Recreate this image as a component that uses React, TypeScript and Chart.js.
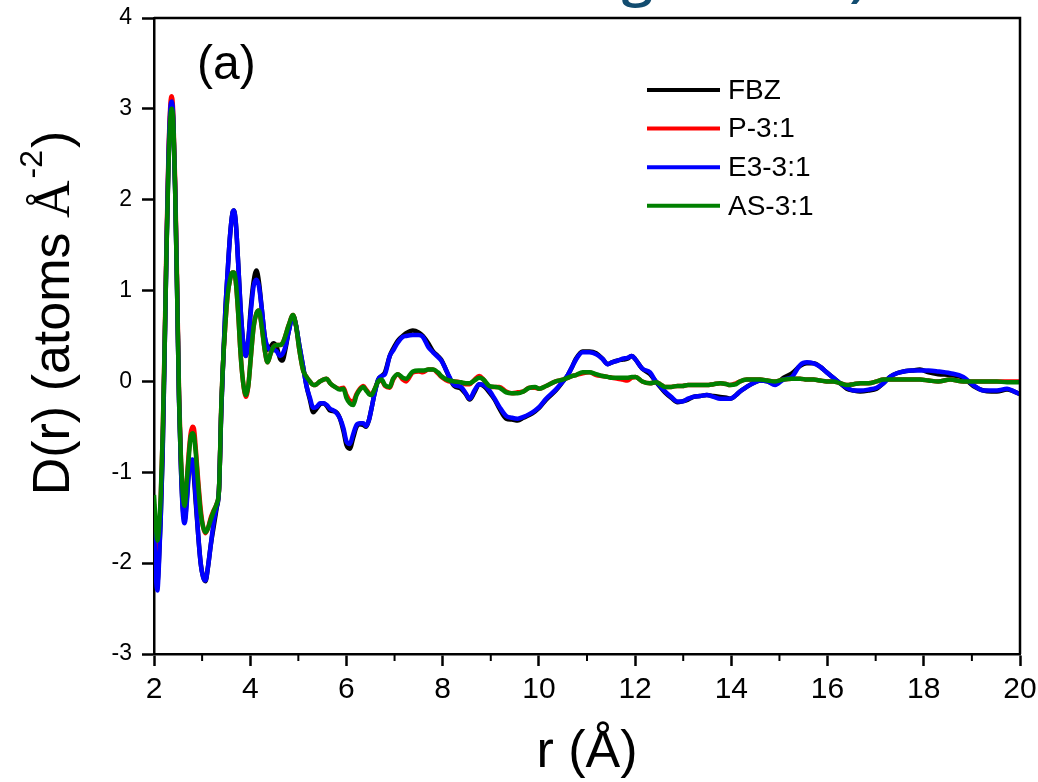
import React, { useEffect, useRef } from "react";
import { Chart, registerables } from "chart.js";

Chart.register(...registerables);

// Radial distance r (Å)
const rValues = [
  2.00, 2.04, 2.07, 2.10, 2.14, 2.18, 2.22, 2.26, 2.30, 2.34,
  2.37, 2.40, 2.44, 2.48, 2.52, 2.56, 2.60, 2.64, 2.68, 2.72,
  2.76, 2.80, 2.83, 2.87, 2.92, 2.97, 3.02, 3.07, 3.12, 3.18,
  3.24, 3.30, 3.35, 3.40, 3.44, 3.48, 3.53, 3.58, 3.63, 3.66,
  3.70, 3.75, 3.80, 3.85, 3.91, 3.96, 4.01, 4.07, 4.13, 4.18,
  4.24, 4.30, 4.36, 4.42, 4.48, 4.55, 4.62, 4.67, 4.73, 4.80,
  4.89, 4.95, 5.02, 5.10, 5.17, 5.24, 5.31, 5.38, 5.45, 5.52,
  5.59, 5.66, 5.76, 5.86, 5.94, 6.00, 6.07, 6.14, 6.21, 6.28,
  6.35, 6.41, 6.47, 6.52, 6.59, 6.66, 6.73, 6.80, 6.90, 6.97,
  7.07, 7.17, 7.24, 7.38, 7.50, 7.59, 7.70, 7.80, 7.90, 7.97,
  8.05, 8.14, 8.24, 8.38, 8.48, 8.56, 8.66, 8.76, 8.85, 8.97,
  9.08, 9.18, 9.32, 9.44, 9.56, 9.68, 9.80, 9.92, 10.01, 10.15,
  10.35, 10.50, 10.60, 10.70, 10.77, 10.91, 11.05, 11.19, 11.32, 11.43,
  11.52, 11.64, 11.74, 11.84, 11.93, 12.01, 12.15, 12.31, 12.43, 12.52,
  12.62, 12.75, 12.88, 12.98, 13.10, 13.21, 13.35, 13.49, 13.63, 13.77,
  13.90, 13.97, 14.10, 14.18, 14.32, 14.45, 14.60, 14.75, 14.91, 15.08,
  15.26, 15.43, 15.57, 15.71, 15.85, 15.98, 16.12, 16.26, 16.40, 16.54,
  16.68, 16.85, 17.02, 17.16, 17.30, 17.44, 17.58, 17.75, 17.92, 18.10,
  18.30, 18.55, 18.82, 19.03, 19.24, 19.40, 19.52, 19.73, 19.87, 20.00,
];

// D(r) for each sample
const fbzValues = [
  -1.55, -2.05, -2.22, -2.00, -1.50, -0.80, 0.30, 1.45, 2.40, 2.95,
  3.05, 2.85, 2.10, 1.00, -0.20, -0.95, -1.40, -1.52, -1.30, -1.00,
  -0.90, -0.88, -1.05, -1.35, -1.70, -2.00, -2.15, -2.20, -2.05, -1.80,
  -1.60, -1.40, -1.20, -0.30, 0.25, 0.75, 1.20, 1.60, 1.85, 1.88,
  1.75, 1.30, 0.80, 0.45, 0.28, 0.45, 0.80, 1.10, 1.22, 1.10,
  0.80, 0.50, 0.35, 0.38, 0.42, 0.38, 0.25, 0.23, 0.35, 0.55,
  0.72, 0.62, 0.40, 0.16, -0.05, -0.20, -0.34, -0.30, -0.25, -0.24,
  -0.27, -0.32, -0.33, -0.40, -0.55, -0.70, -0.74, -0.62, -0.50, -0.47,
  -0.48, -0.50, -0.42, -0.30, -0.12, 0.02, 0.06, 0.10, 0.28, 0.36,
  0.45, 0.50, 0.53, 0.56, 0.54, 0.50, 0.42, 0.33, 0.28, 0.24,
  0.15, 0.04, -0.05, -0.08, -0.14, -0.20, -0.12, -0.03, -0.05, -0.12,
  -0.20, -0.30, -0.41, -0.42, -0.43, -0.40, -0.37, -0.33, -0.29, -0.20,
  -0.10, 0.00, 0.07, 0.17, 0.25, 0.33, 0.33, 0.31, 0.25, 0.19,
  0.21, 0.23, 0.24, 0.25, 0.28, 0.24, 0.14, 0.08, 0.00, -0.06,
  -0.12, -0.18, -0.23, -0.22, -0.20, -0.17, -0.16, -0.15, -0.16, -0.17,
  -0.18, -0.19, -0.15, -0.11, -0.06, -0.02, 0.01, 0.00, -0.03, 0.04,
  0.09, 0.17, 0.20, 0.20, 0.16, 0.10, 0.04, -0.02, -0.08, -0.10,
  -0.11, -0.10, -0.08, -0.02, 0.05, 0.09, 0.11, 0.12, 0.13, 0.10,
  0.08, 0.07, 0.04, -0.05, -0.10, -0.11, -0.11, -0.09, -0.11, -0.14,
];

const p31Values = [
  -1.35, -1.75, -1.90, -1.75, -1.30, -0.60, 0.40, 1.55, 2.50, 3.05,
  3.14, 2.95, 2.20, 1.10, -0.10, -0.85, -1.25, -1.38, -1.10, -0.80,
  -0.58, -0.50, -0.52, -0.75, -1.10, -1.40, -1.60, -1.67, -1.62, -1.50,
  -1.42, -1.35, -1.20, -0.25, 0.25, 0.60, 0.95, 1.12, 1.20, 1.20,
  1.10, 0.75, 0.30, 0.00, -0.17, -0.05, 0.25, 0.60, 0.75, 0.78,
  0.60, 0.35, 0.21, 0.30, 0.38, 0.40, 0.40, 0.42, 0.50, 0.62,
  0.73, 0.62, 0.35, 0.12, 0.05, 0.00, -0.04, -0.03, 0.00, 0.02,
  0.03, -0.02, -0.06, -0.08, -0.07, -0.15, -0.21, -0.22, -0.14, -0.08,
  -0.05, -0.09, -0.13, -0.14, -0.08, 0.00, 0.01, -0.05, -0.07, 0.02,
  0.08, 0.02, 0.00, 0.10, 0.11, 0.10, 0.13, 0.13, 0.09, 0.05,
  0.02, 0.00, 0.00, -0.01, -0.03, -0.03, 0.02, 0.06, 0.02, -0.06,
  -0.06, -0.06, -0.11, -0.13, -0.12, -0.11, -0.07, -0.07, -0.08, -0.05,
  0.00, 0.02, 0.04, 0.06, 0.07, 0.09, 0.10, 0.07, 0.06, 0.05,
  0.04, 0.03, 0.02, 0.01, 0.04, 0.05, 0.00, -0.02, -0.01, -0.03,
  -0.06, -0.06, -0.05, -0.05, -0.04, -0.04, -0.04, -0.04, -0.03, -0.02,
  -0.03, -0.04, -0.02, 0.00, 0.02, 0.02, 0.02, 0.01, 0.00, 0.02,
  0.03, 0.03, 0.02, 0.02, 0.01, 0.00, 0.00, -0.02, -0.04, -0.03,
  -0.02, -0.02, 0.00, 0.02, 0.02, 0.02, 0.02, 0.02, 0.02, 0.01,
  0.00, 0.02, 0.00, 0.00, 0.00, 0.00, 0.00, 0.00, 0.00, 0.00,
];

const e331Values = [
  -1.60, -2.15, -2.30, -2.05, -1.50, -0.75, 0.30, 1.45, 2.45, 3.00,
  3.08, 2.90, 2.10, 1.00, -0.20, -0.95, -1.45, -1.56, -1.35, -1.05,
  -0.90, -0.86, -1.00, -1.30, -1.70, -2.00, -2.15, -2.19, -2.05, -1.80,
  -1.55, -1.38, -1.20, -0.30, 0.25, 0.75, 1.20, 1.60, 1.85, 1.88,
  1.75, 1.30, 0.80, 0.45, 0.28, 0.45, 0.75, 1.05, 1.12, 1.05,
  0.80, 0.50, 0.38, 0.35, 0.35, 0.33, 0.28, 0.30, 0.38, 0.55,
  0.72, 0.62, 0.40, 0.16, -0.05, -0.18, -0.29, -0.28, -0.24, -0.24,
  -0.26, -0.30, -0.33, -0.40, -0.52, -0.66, -0.69, -0.58, -0.48, -0.46,
  -0.46, -0.49, -0.42, -0.30, -0.12, 0.02, 0.06, 0.08, 0.28, 0.34,
  0.43, 0.49, 0.50, 0.51, 0.51, 0.49, 0.38, 0.32, 0.27, 0.23,
  0.15, 0.05, -0.04, -0.06, -0.13, -0.19, -0.10, -0.03, -0.04, -0.10,
  -0.19, -0.28, -0.38, -0.40, -0.41, -0.39, -0.36, -0.32, -0.28, -0.19,
  -0.09, 0.00, 0.07, 0.17, 0.24, 0.32, 0.32, 0.30, 0.25, 0.19,
  0.21, 0.23, 0.25, 0.26, 0.28, 0.24, 0.14, 0.10, 0.00, -0.05,
  -0.11, -0.17, -0.22, -0.22, -0.19, -0.17, -0.16, -0.15, -0.17, -0.19,
  -0.19, -0.19, -0.15, -0.11, -0.06, -0.02, 0.01, 0.00, -0.04, 0.02,
  0.05, 0.18, 0.21, 0.20, 0.16, 0.10, 0.04, -0.02, -0.07, -0.10,
  -0.10, -0.09, -0.07, -0.02, 0.05, 0.09, 0.11, 0.12, 0.12, 0.12,
  0.11, 0.09, 0.05, -0.04, -0.10, -0.10, -0.10, -0.08, -0.11, -0.14,
];

const as31Values = [
  -1.25, -1.60, -1.75, -1.65, -1.25, -0.60, 0.35, 1.45, 2.35, 2.90,
  3.00, 2.85, 2.10, 1.00, -0.15, -0.85, -1.25, -1.37, -1.10, -0.85,
  -0.62, -0.57, -0.60, -0.80, -1.15, -1.45, -1.60, -1.66, -1.62, -1.52,
  -1.43, -1.35, -1.20, -0.25, 0.25, 0.60, 0.95, 1.12, 1.20, 1.20,
  1.10, 0.75, 0.30, 0.00, -0.15, -0.05, 0.25, 0.60, 0.75, 0.78,
  0.60, 0.35, 0.21, 0.30, 0.38, 0.40, 0.40, 0.42, 0.50, 0.62,
  0.73, 0.62, 0.35, 0.12, 0.05, 0.00, -0.04, -0.03, 0.00, 0.02,
  0.03, -0.02, -0.06, -0.09, -0.08, -0.18, -0.24, -0.26, -0.15, -0.09,
  -0.06, -0.10, -0.14, -0.15, -0.08, 0.00, 0.02, -0.04, -0.06, 0.03,
  0.08, 0.04, 0.03, 0.11, 0.12, 0.12, 0.13, 0.13, 0.10, 0.06,
  0.03, 0.01, 0.00, -0.01, -0.02, -0.02, 0.01, 0.04, 0.02, -0.05,
  -0.06, -0.07, -0.12, -0.13, -0.13, -0.11, -0.07, -0.06, -0.08, -0.05,
  0.00, 0.02, 0.04, 0.06, 0.07, 0.10, 0.10, 0.08, 0.06, 0.05,
  0.04, 0.04, 0.04, 0.04, 0.05, 0.05, 0.00, -0.02, -0.01, -0.03,
  -0.06, -0.06, -0.05, -0.05, -0.04, -0.04, -0.04, -0.04, -0.03, -0.02,
  -0.03, -0.04, -0.03, 0.00, 0.02, 0.02, 0.02, 0.01, 0.00, 0.02,
  0.03, 0.03, 0.02, 0.02, 0.01, 0.00, 0.00, -0.02, -0.04, -0.03,
  -0.02, -0.02, 0.00, 0.02, 0.02, 0.02, 0.02, 0.02, 0.02, 0.01,
  0.00, 0.02, 0.00, 0.00, 0.00, 0.00, 0.00, -0.01, -0.01, -0.01,
];

const seriesLabels = ["FBZ", "P-3:1", "E3-3:1", "AS-3:1"];
const seriesColors = ["#000000", "#ff0000", "#0000ff", "#008000"];
// Later series are painted over earlier ones
const seriesOrder = [3, 2, 1, 0];

const xMinorTicks = [3, 5, 7, 9, 11, 13, 15, 17, 19];
const panelLabel = "(a)";
const headerText = "Short-range order)";

const SANS = '"Liberation Sans", Arial, sans-serif';
const SERIF = '"Liberation Serif", "Times New Roman", serif';

const decorations = {
  id: "decorations",
  afterDraw(chart: any) {
    const { ctx, chartArea, scales } = chart;
    const { left, right, top, bottom } = chartArea;
    ctx.save();

    // top and right frame lines
    ctx.strokeStyle = "#000";
    ctx.lineWidth = 2.5;
    ctx.beginPath();
    ctx.moveTo(left, top);
    ctx.lineTo(right, top);
    ctx.lineTo(right, bottom);
    ctx.stroke();

    // minor ticks on the r axis
    ctx.lineWidth = 2;
    xMinorTicks.forEach((v) => {
      const px = scales.x.getPixelForValue(v);
      ctx.beginPath();
      ctx.moveTo(px, bottom);
      ctx.lineTo(px, bottom + 7);
      ctx.stroke();
    });

    // panel label
    ctx.fillStyle = "#000";
    ctx.font = `48px ${SANS}`;
    ctx.textAlign = "left";
    ctx.textBaseline = "alphabetic";
    ctx.fillText(panelLabel, 197, 79);

    // legend
    const legendX0 = 647;
    const legendX1 = 720;
    chart.data.datasets.forEach((ds: any, i: number) => {
      const y = 90 + i * 38.6;
      ctx.strokeStyle = ds.borderColor;
      ctx.lineWidth = 4;
      ctx.beginPath();
      ctx.moveTo(legendX0, y);
      ctx.lineTo(legendX1, y);
      ctx.stroke();
      ctx.fillStyle = "#000";
      ctx.font = `28px ${SANS}`;
      ctx.textBaseline = "middle";
      ctx.fillText(ds.label, 728, y + 1);
    });

    // x axis title
    ctx.textBaseline = "alphabetic";
    ctx.textAlign = "center";
    ctx.font = `52px ${SANS}`;
    ctx.fillText("r (Å)", (left + right) / 2, 767);

    // y axis title with superscript
    ctx.save();
    ctx.translate(69, 313);
    ctx.rotate(-Math.PI / 2);
    ctx.textAlign = "left";
    const partA = "D(r) (atoms ";
    const partB = "Å";
    const partC = "-2";
    const partD = ")";
    ctx.font = `52px ${SANS}`;
    const wA = ctx.measureText(partA).width;
    const wD = ctx.measureText(partD).width;
    ctx.font = `52px ${SERIF}`;
    const wB = ctx.measureText(partB).width;
    ctx.font = `32px ${SANS}`;
    const wC = ctx.measureText(partC).width;
    let xPos = -(wA + wB + wC + wD + 4) / 2;
    ctx.font = `52px ${SANS}`;
    ctx.fillText(partA, xPos, 0);
    xPos += wA;
    ctx.font = `52px ${SERIF}`;
    ctx.fillText(partB, xPos, 0);
    xPos += wB + 2;
    ctx.font = `32px ${SANS}`;
    ctx.fillText(partC, xPos, -27);
    xPos += wC + 2;
    ctx.font = `52px ${SANS}`;
    ctx.fillText(partD, xPos, 0);
    ctx.restore();

    // heading running off the top edge
    ctx.fillStyle = "#124c70";
    ctx.font = `600 56px "Open Sans", ${SANS}`;
    ctx.textAlign = "right";
    ctx.textBaseline = "alphabetic";
    ctx.fillText(headerText, 867, -5);

    ctx.restore();
  },
};

export default function App() {
  const canvasRef = useRef<HTMLCanvasElement | null>(null);

  useEffect(() => {
    document.body.style.margin = "0";
    const canvas = canvasRef.current;
    if (!canvas) return;

    const seriesValues = [fbzValues, p31Values, e331Values, as31Values];
    const datasets = seriesLabels.map((label, i) => ({
      label,
      data: rValues.map((r, k) => ({ x: r, y: seriesValues[i][k] })),
      borderColor: seriesColors[i],
      backgroundColor: seriesColors[i],
      borderWidth: 4.5,
      pointRadius: 0,
      cubicInterpolationMode: "monotone" as const,
      borderJoinStyle: "round" as const,
      order: seriesOrder[i],
      fill: false,
    }));

    const chart = new Chart(canvas, {
      type: "line",
      data: { datasets },
      options: {
        animation: false,
        responsive: false,
        maintainAspectRatio: false,
        layout: { padding: { top: 18, right: 18, left: 0, bottom: 0 } },
        plugins: {
          legend: { display: false },
          tooltip: { enabled: false },
        },
        scales: {
          x: {
            type: "linear",
            min: 2,
            max: 20,
            afterFit: (scale: any) => {
              scale.height = 128;
              scale.paddingLeft = 0;
              scale.paddingRight = 0;
            },
            ticks: {
              stepSize: 2,
              color: "#000",
              padding: 6,
              font: { family: SANS, size: 30 },
              maxRotation: 0,
            },
            grid: {
              drawOnChartArea: false,
              drawTicks: true,
              tickLength: 12,
              tickWidth: 2.5,
              tickColor: "#000",
            },
            border: { display: true, color: "#000", width: 2.5 },
          },
          y: {
            type: "linear",
            min: -3,
            max: 4,
            afterFit: (scale: any) => {
              scale.width = 154;
              scale.paddingTop = 0;
              scale.paddingBottom = 0;
            },
            ticks: {
              stepSize: 1,
              color: "#000",
              padding: 10,
              font: { family: SANS, size: 23 },
            },
            grid: {
              drawOnChartArea: false,
              drawTicks: true,
              tickLength: 12,
              tickWidth: 2.5,
              tickColor: "#000",
            },
            border: { display: true, color: "#000", width: 2.5 },
          },
        },
      },
      plugins: [decorations],
    });

    return () => chart.destroy();
  }, []);

  return (
    <div style={{ width: 1038, height: 782, background: "#fff" }}>
      <canvas ref={canvasRef} width={1038} height={782} style={{ display: "block" }} />
    </div>
  );
}
